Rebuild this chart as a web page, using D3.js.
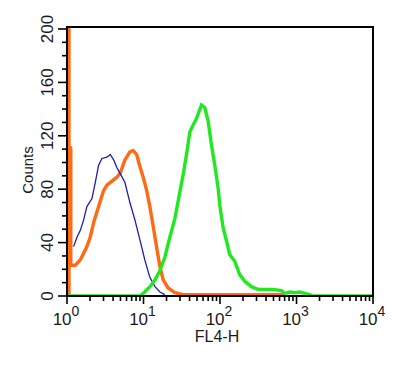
<!DOCTYPE html>
<html>
<head>
<meta charset="utf-8">
<script src="https://cdn.jsdelivr.net/npm/d3@7"></script>
<style>
  body { margin: 0; background: #fff; }
  text { font-family: "Liberation Sans", Arial, sans-serif; fill: #1a1a1a; }
</style>
</head>
<body>
<div id="chart"></div>
<script>
// FL4-H histograms, [intensity, counts]
const blueSeries = [
  [1.22, 37], [1.35, 44], [1.49, 49], [1.65, 57], [1.82, 67], [2.12, 73],
  [2.34, 85], [2.59, 98], [2.86, 103], [3.33, 104], [3.67, 106], [4.07, 102],
  [4.5, 96], [4.92, 92], [5.72, 85], [6.64, 70], [7.72, 57], [8.98, 42],
  [10.4, 27], [12.1, 14], [14.1, 7], [16.4, 3], [19.0, 1]
];
const orangeSeries = [
  [1.06, 0], [1.06, 250], [1.06, 111], [1.12, 111], [1.12, 23],
  [1.28, 23], [1.49, 27], [1.65, 32], [1.82, 37], [2.01, 44], [2.23, 55],
  [2.46, 63], [2.72, 71], [3.01, 79], [3.33, 83], [3.87, 86], [4.5, 89],
  [4.97, 92], [5.72, 102], [6.64, 108], [7.34, 109], [8.13, 106], [8.98, 97],
  [9.91, 89], [11.0, 79], [12.1, 67], [13.4, 52], [14.8, 37], [16.4, 22],
  [18.1, 12], [21.0, 6], [25.7, 2.5], [32.7, 1], [635, 1], [702, 0]
];
const greenSeries = [
  [1.0, 0], [8.98, 0], [10.4, 3], [12.1, 7], [14.1, 12], [16.4, 19], [19.0, 29],
  [22.1, 44], [25.7, 58], [29.9, 78], [33.0, 91], [36.5, 106], [40.4, 123],
  [44.6, 128], [49.3, 133], [57.3, 143], [63.4, 141], [70.0, 131], [77.4, 113],
  [85.5, 98], [94.4, 81], [99.4, 68], [110, 51], [122, 41], [134, 31], [156, 26],
  [181, 16], [211, 11], [258, 7], [314, 5], [493, 5], [635, 4], [702, 2],
  [815, 3], [948, 2.5], [1101, 3], [1280, 2], [1487, 1], [1627, 0], [10000, 0]
];
const yTicks = [0, 40, 80, 120, 160, 200];
const xDecades = [0, 1, 2, 3, 4];

const width = 409, height = 365;
const m = { left: 67, right: 373, top: 27, bottom: 296 };

const svg = d3.select("#chart").append("svg")
  .attr("width", width).attr("height", height);

const x = d3.scaleLog().domain([1, 10000]).range([m.left, m.right]);
const y = d3.scaleLinear().domain([0, 200]).range([m.bottom, 29]);

svg.append("clipPath").attr("id", "clip")
  .append("rect")
  .attr("x", m.left).attr("y", m.top)
  .attr("width", m.right - m.left).attr("height", m.bottom - m.top);

const line = d3.line().x(d => x(d[0])).y(d => y(d[1]));

const plot = svg.append("g").attr("clip-path", "url(#clip)");

plot.append("path").datum(orangeSeries)
  .attr("d", line).attr("fill", "none")
  .attr("stroke", "#ff6a14").attr("stroke-width", 3.4)
  .attr("stroke-linejoin", "round");

plot.append("path").datum(blueSeries)
  .attr("d", line).attr("fill", "none")
  .attr("stroke", "#1c1cb0").attr("stroke-width", 1.3);

plot.append("path").datum(greenSeries)
  .attr("d", line).attr("fill", "none")
  .attr("stroke", "#22e822").attr("stroke-width", 3.4);

// frame
svg.append("rect")
  .attr("x", m.left).attr("y", m.top)
  .attr("width", m.right - m.left).attr("height", m.bottom - m.top)
  .attr("fill", "none").attr("stroke", "#000").attr("stroke-width", 2);

// y axis: minor every 10, major every 40
const yAxis = svg.append("g");
d3.range(0, 201, 10).forEach(v => {
  const major = v % 40 === 0;
  yAxis.append("line")
    .attr("x1", m.left - (major ? 9 : 5)).attr("x2", m.left)
    .attr("y1", y(v)).attr("y2", y(v))
    .attr("stroke", "#000").attr("stroke-width", 1.6);
});
yAxis.selectAll("text.tick")
  .data(yTicks)
  .join("text")
  .attr("class", "tick")
  .attr("transform", d => "translate(53," + y(d) + ") rotate(-90)")
  .attr("text-anchor", "middle")
  .style("font-size", "17px")
  .text(d => d);

svg.append("text")
  .attr("transform", "translate(33,170) rotate(-90)")
  .attr("text-anchor", "middle")
  .style("font-size", "15px")
  .text("Counts");

// x axis: log ticks
const xAxis = svg.append("g");
xDecades.forEach(p => {
  const base = Math.pow(10, p);
  xAxis.append("line")
    .attr("x1", x(base)).attr("x2", x(base))
    .attr("y1", m.bottom).attr("y2", m.bottom + 8)
    .attr("stroke", "#000").attr("stroke-width", 1.6);
  if (p < 4) {
    d3.range(2, 10).forEach(k => {
      xAxis.append("line")
        .attr("x1", x(base * k)).attr("x2", x(base * k))
        .attr("y1", m.bottom).attr("y2", m.bottom + 5)
        .attr("stroke", "#000").attr("stroke-width", 1.6);
    });
  }
  const t = xAxis.append("text")
    .attr("x", x(base) - 1).attr("y", 325)
    .attr("text-anchor", "middle")
    .style("font-size", "17px");
  t.append("tspan").text("10");
  t.append("tspan").attr("dy", -9).style("font-size", "14px").text(p);
});

svg.append("text")
  .attr("x", 217).attr("y", 342)
  .attr("text-anchor", "middle")
  .style("font-size", "16px")
  .text("FL4-H");
</script>
</body>
</html>
